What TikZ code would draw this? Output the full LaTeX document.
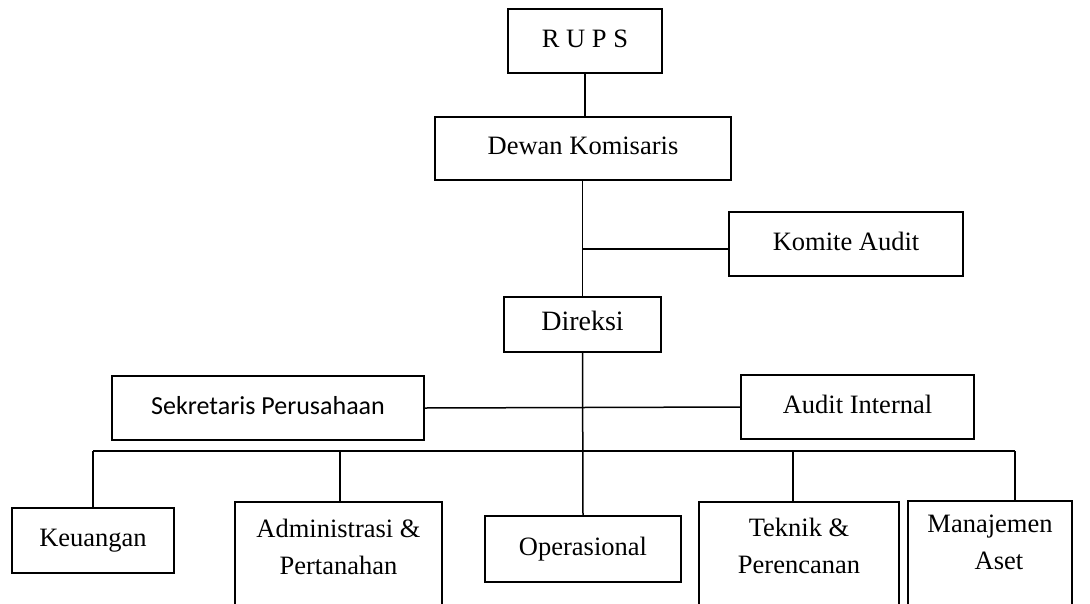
\documentclass[tikz,border=0pt]{standalone}
\usepackage{fontspec}
\setmainfont{Liberation Serif}
\newfontfamily\calibrifont{Carlito}
\tikzset{
  unit/.style={draw, line width=1.5pt, fill=white, inner sep=0pt,
    font=\fontsize{26.5}{37}\selectfont, align=center,
    text height=18pt, text depth=6pt},
  openbox/.style={draw, line width=1.5pt, inner sep=0pt, anchor=north,
    minimum height=160pt},
  inbox/.style={inner sep=0pt, anchor=north, align=center,
    font=\fontsize{26.5}{37}\selectfont},
  link/.style={line width=1.5pt}
}
\begin{document}
\begin{tikzpicture}[x=1pt,y=-1pt]
  \useasboundingbox (0,0) rectangle (1090,603);
  \clip (0,0) rectangle (1090,603);

  % top levels
  \node[unit, minimum width=154pt, minimum height=64pt] (rups) at (585,41) {R U P S};
  \node[unit, minimum width=296pt, minimum height=63pt] (dewan) at (583,148.5) {Dewan Komisaris};
  \node[unit, minimum width=234pt, minimum height=64pt] (komite) at (846,244) {Komite Audit};
  \node[unit, minimum width=157pt, minimum height=55pt,
        font=\fontsize{28}{34}\selectfont] (direksi) at (582.5,324.5) {Direksi};
  \node[unit, minimum width=312pt, minimum height=64pt,
        font=\calibrifont\fontsize{26}{32}\selectfont] (sekr) at (268,408) {Sekretaris Perusahaan};
  \node[unit, minimum width=233pt, minimum height=64pt] (audit) at (857.5,407) {Audit Internal};

  % departments
  \node[unit, minimum width=162pt, minimum height=65pt] (keu) at (93,540.5) {Keuangan};
  \node[unit, minimum width=196pt, minimum height=66pt] (ops) at (583,549) {Operasional};
  \node[openbox, minimum width=207pt,
        label={[inbox, yshift=-18pt]north:{Administrasi \&\\Pertanahan}}] (adm) at (338.5,501) {};
  \node[openbox, minimum width=200pt,
        label={[inbox, yshift=-17pt]north:{Teknik \&\\Perencanan}}] (tek) at (799,501) {};
  \node[openbox, minimum width=164pt,
        label={[inbox, yshift=-15pt]north:{Manajemen\\\hspace*{18pt}Aset}}] (mgr) at (990,500) {};

  % bus line above the departments
  \coordinate (busL) at (93,451);
  \coordinate (busR) at (1015,451);

  % connectors
  \draw[link] (rups.south) -- (rups.south |- dewan.north);
  \draw[link] (dewan.south -| direksi) -- (direksi.north);
  \draw[link] (komite.west |- 0,249) -- (direksi |- 0,249);
  \draw[link] (direksi.south) -- (ops.north);
  \draw[link] (sekr.east) -- (audit.west);
  \draw[link] (busL) -- (busR);
  \draw[link] (keu.north) -- (busL);
  \draw[link] (adm.north -| 340,0) -- (busL -| 340,0);
  \draw[link] ([xshift=-6pt]tek.north) -- (busL -| 793,0);
  \draw[link] ([xshift=25pt]mgr.north) -- (busR);
\end{tikzpicture}
\end{document}
